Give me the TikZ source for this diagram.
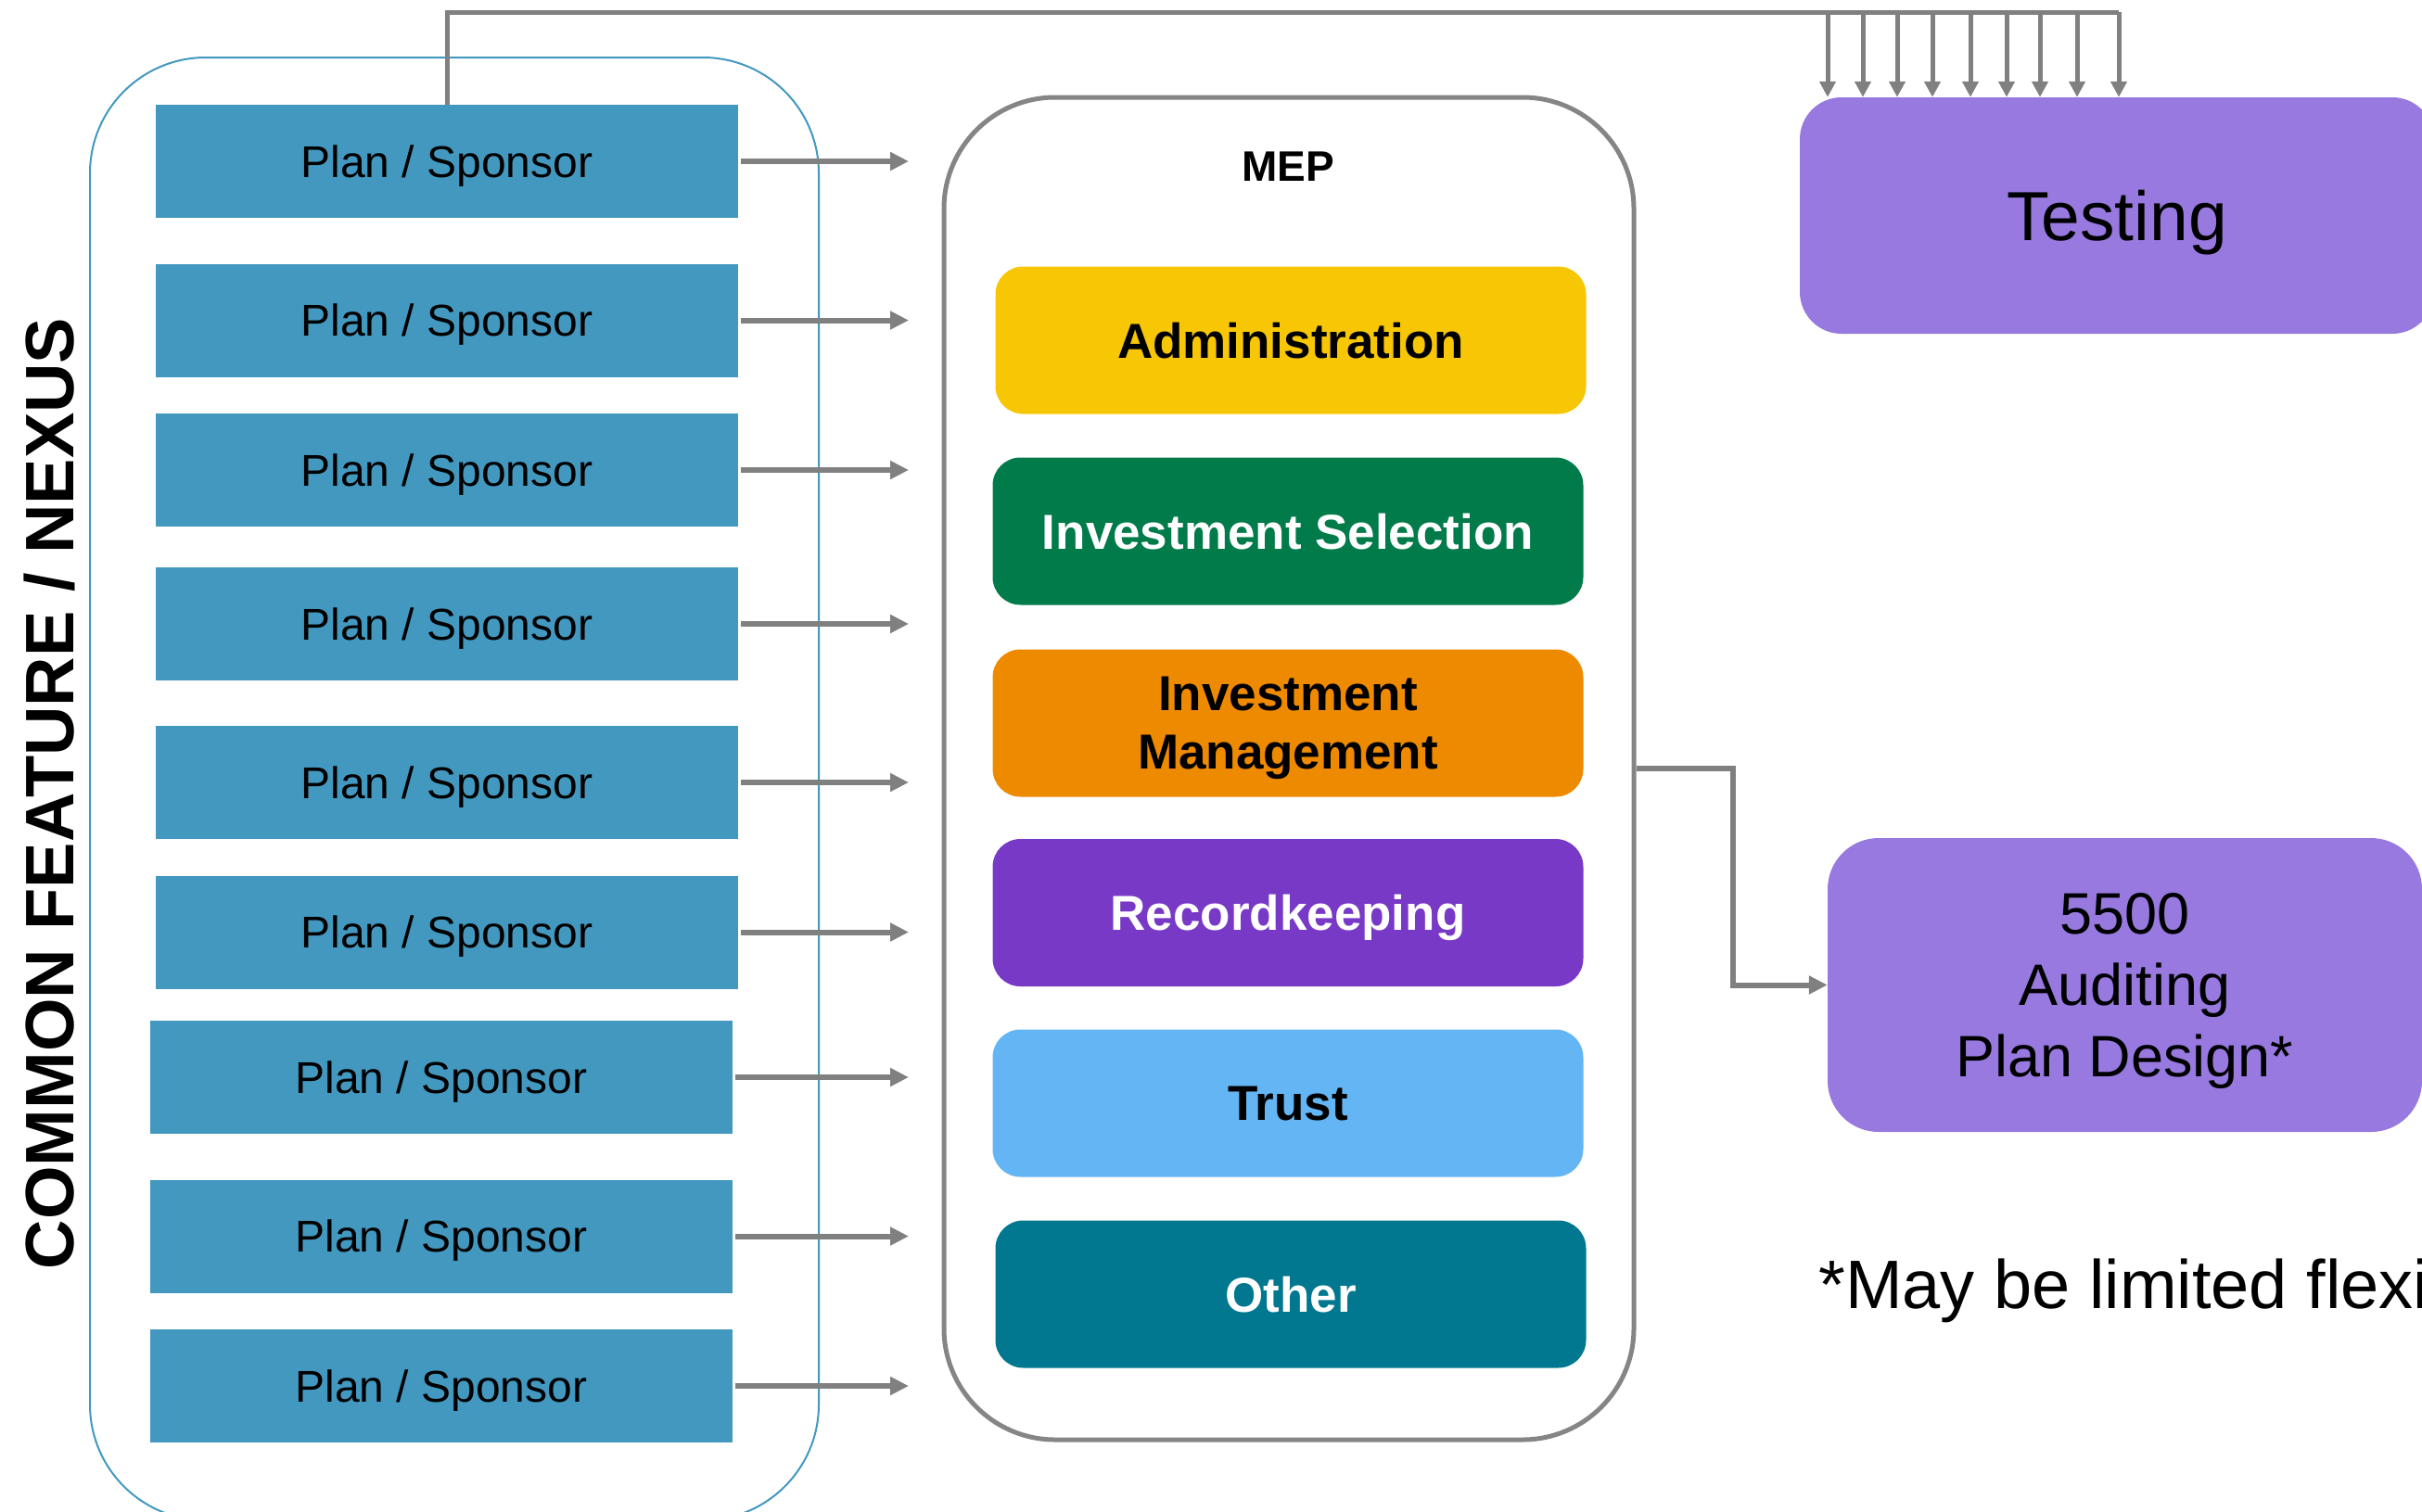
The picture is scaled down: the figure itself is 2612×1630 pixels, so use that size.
\documentclass[tikz,border=0pt]{standalone}
\usepackage{fontspec}
\setmainfont{Liberation Sans}
\usetikzlibrary{arrows.meta}
\definecolor{planblue}{HTML}{4398C0}
\definecolor{lilac}{HTML}{9779DF}
\definecolor{admincol}{HTML}{F7C604}
\definecolor{invselcol}{HTML}{027B4B}
\definecolor{invmgmtcol}{HTML}{EE8A00}
\definecolor{recordcol}{HTML}{7739C6}
\definecolor{trustcol}{HTML}{63B5F3}
\definecolor{othercol}{HTML}{017890}
\definecolor{conngray}{HTML}{808080}
\definecolor{mepgray}{HTML}{858585}
\tikzset{
  planbox/.style={fill=planblue, minimum width=628pt, minimum height=122pt, inner sep=0pt,
    text depth=0pt, font=\fontsize{48}{58}\selectfont},
  svcbox/.style={rounded corners=30pt, minimum width=637pt, minimum height=159pt, inner sep=0pt,
    text depth=0pt, font=\bfseries\fontsize{53}{63}\selectfont, align=center},
  lilacbox/.style={fill=lilac, inner sep=0pt, align=center, text depth=0pt},
  conn/.style={draw=conngray, line width=6pt, -{Triangle[length=20pt,width=19pt]}},
  topline/.style={draw=conngray, line width=5pt},
  droparrow/.style={draw=conngray, line width=5pt, -{Triangle[length=17pt,width=17pt]}},
}
\begin{document}
\begin{tikzpicture}[x=1pt,y=-1pt]
\useasboundingbox (0,0) rectangle (2612,1630);
% left container
\draw[draw=planblue, line width=2pt, rounded corners=125pt] (97,62) rectangle (883,1640);
\node[rotate=90, font=\bfseries\fontsize{74}{88}\selectfont] (nexus) at (53,856) {COMMON FEATURE / NEXUS};
% plan boxes
\node[planbox] (p1) at (482,174) {Plan / Sponsor};
\node[planbox] (p2) at (482,345.5) {Plan / Sponsor};
\node[planbox] (p3) at (482,507) {Plan / Sponsor};
\node[planbox] (p4) at (482,673) {Plan / Sponsor};
\node[planbox] (p5) at (482,844) {Plan / Sponsor};
\node[planbox] (p6) at (482,1005.5) {Plan / Sponsor};
\node[planbox] (p7) at (476,1162) {Plan / Sponsor};
\node[planbox] (p8) at (476,1333.5) {Plan / Sponsor};
\node[planbox] (p9) at (476,1495) {Plan / Sponsor};
% arrow ends
\foreach \i/\y in {1/174,2/345.5,3/507,4/673,5/844,6/1005.5,7/1162,8/1333.5,9/1495}{
  \coordinate (t\i) at (980,\y);
  \draw[conn] ([xshift=3pt]p\i.east) -- (t\i);
}
% MEP container
\node[draw=mepgray, line width=5pt, rounded corners=120pt, minimum width=744pt, minimum height=1448pt, inner sep=0pt] (mep) at (1390,829) {};
\node[font=\bfseries\fontsize{46}{55}\selectfont] (meplabel) at (1389,180) {MEP};
\node[svcbox, fill=admincol] (admin) at (1392,367) {Administration};
\node[svcbox, fill=invselcol, text=white] (invsel) at (1389,573) {Investment Selection};
\node[svcbox, fill=invmgmtcol] (invmgmt) at (1389,780) {Investment\\Management};
\node[svcbox, fill=recordcol, text=white] (record) at (1389,984.5) {Recordkeeping};
\node[svcbox, fill=trustcol] (trust) at (1389,1190) {Trust};
\node[svcbox, fill=othercol, text=white] (other) at (1392,1396) {Other};
% right boxes
\node[lilacbox, rounded corners=45pt, minimum width=684pt, minimum height=255pt,
  font=\fontsize{75}{90}\selectfont] (testing) at (2283,232.5) {Testing};
\node[lilacbox, rounded corners=55pt, minimum width=641pt, minimum height=317pt,
  font=\fontsize{63}{77}\selectfont] (five) at (2291.5,1062.5) {5500\\Auditing\\Plan Design*};
% MEP to 5500
\draw[conn] (mep.east) -- ++(104,0) |- (five.west);
% top connector
\coordinate (tr) at (2285,13);
\draw[topline] (p1.north) |- (tr);
\foreach \x in {1971,2009,2046,2084,2125,2164,2200,2240,2285}{
  \coordinate (d\x) at (\x,13);
  \draw[droparrow] (d\x) -- (testing.north -| d\x);
}
% footnote
\node[anchor=base west, inner sep=0pt, font=\fontsize{74}{88}\selectfont] (note) at (1961,1411) {*May be limited flexibility};
\end{tikzpicture}
\end{document}
